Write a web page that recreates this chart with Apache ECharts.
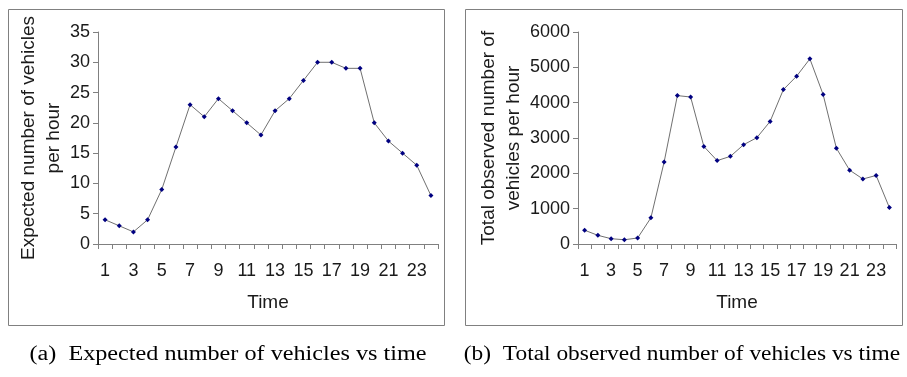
<!DOCTYPE html>
<html>
<head>
<meta charset="utf-8">
<script src="https://cdn.jsdelivr.net/npm/echarts@6/dist/echarts.min.js"></script>
<style>
html,body{margin:0;padding:0;background:#fff;}
#c{width:907px;height:377px;}
</style>
</head>
<body>
<div id="c"></div>
<script>
const hours = ['1','2','3','4','5','6','7','8','9','10','11','12','13','14','15','16','17','18','19','20','21','22','23','24'];
const expectedVehicles = [4,3,2,4,9,16,23,21,24,22,20,18,22,24,27,30,30,29,29,20,17,15,13,8];
const observedVehicles = [390,245,150,120,170,740,2320,4200,4160,2760,2360,2480,2810,3010,3470,4370,4750,5240,4230,2710,2090,1840,1940,1030];
const leftYTitle = 'Expected number of vehicles\nper hour';
const rightYTitle = 'Total observed number of\nvehicles per hour';
const xTitle = 'Time';
const captionA = '(a)  Expected number of vehicles vs time';
const captionB = '(b)  Total observed number of vehicles vs time';

const FONT = 'Liberation Sans, Arial, sans-serif';
const SERIF = 'Liberation Serif, serif';
const axisColor = '#808080';
const textColor = '#1a1a1a';

function xAxisCfg(gi){
  return {
    type:'category', gridIndex:gi, data:hours, boundaryGap:true,
    axisLine:{lineStyle:{color:axisColor,width:1}},
    axisTick:{show:true,interval:0,length:5,inside:false,lineStyle:{color:axisColor}},
    axisLabel:{interval:1,margin:18,fontSize:18,fontFamily:FONT,color:textColor},
    name:xTitle,nameLocation:'middle',nameGap:49,
    nameTextStyle:{fontSize:19,fontFamily:FONT,color:textColor},
    splitLine:{show:false}
  };
}
function yAxisCfg(gi,max,interval,title){
  return {
    type:'value', gridIndex:gi, min:0, max:max, interval:interval,
    axisLine:{show:true,lineStyle:{color:axisColor,width:1}},
    axisTick:{show:true,length:5,inside:false,lineStyle:{color:axisColor}},
    axisLabel:{margin:8,fontSize:18,fontFamily:FONT,color:textColor,formatter:function(v){return String(v);}},
    splitLine:{show:false},
    name:title,nameLocation:'middle',nameRotate:90,nameGap:30,
    nameTextStyle:{fontSize:19,fontFamily:FONT,color:textColor,lineHeight:25,align:'center'}
  };
}
function seriesCfg(gi,data){
  return {
    type:'line', xAxisIndex:gi, yAxisIndex:gi, data:data,
    symbol:'diamond', symbolSize:5, showSymbol:true,
    lineStyle:{color:'#707070',width:1},
    itemStyle:{color:'#000080'},
    animation:false
  };
}

const chart = echarts.init(document.getElementById('c'),null,{renderer:'canvas'});
chart.setOption({
  backgroundColor:'#fff',
  animation:false,
  grid:[
    {left:98,top:32,width:340,height:212},
    {left:578,top:32,width:318,height:212}
  ],
  xAxis:[xAxisCfg(0),xAxisCfg(1)],
  yAxis:[yAxisCfg(0,35,5,leftYTitle),yAxisCfg(1,6000,1000,rightYTitle)],
  series:[seriesCfg(0,expectedVehicles),seriesCfg(1,observedVehicles)],
  graphic:[
    {type:'rect',shape:{x:8.5,y:9.5,width:436,height:316},style:{fill:'none',stroke:'#808080',lineWidth:1},z:-1},
    {type:'rect',shape:{x:465.5,y:9.5,width:437,height:316},style:{fill:'none',stroke:'#808080',lineWidth:1},z:-1},
    {type:'text',x:228,y:355,scaleX:1.21,style:{text:captionA,fontSize:20,fontFamily:SERIF,fill:'#000',textAlign:'center',textVerticalAlign:'middle'}},
    {type:'text',x:682,y:355,scaleX:1.17,style:{text:captionB,fontSize:20,fontFamily:SERIF,fill:'#000',textAlign:'center',textVerticalAlign:'middle'}}
  ]
});
</script>
</body>
</html>
